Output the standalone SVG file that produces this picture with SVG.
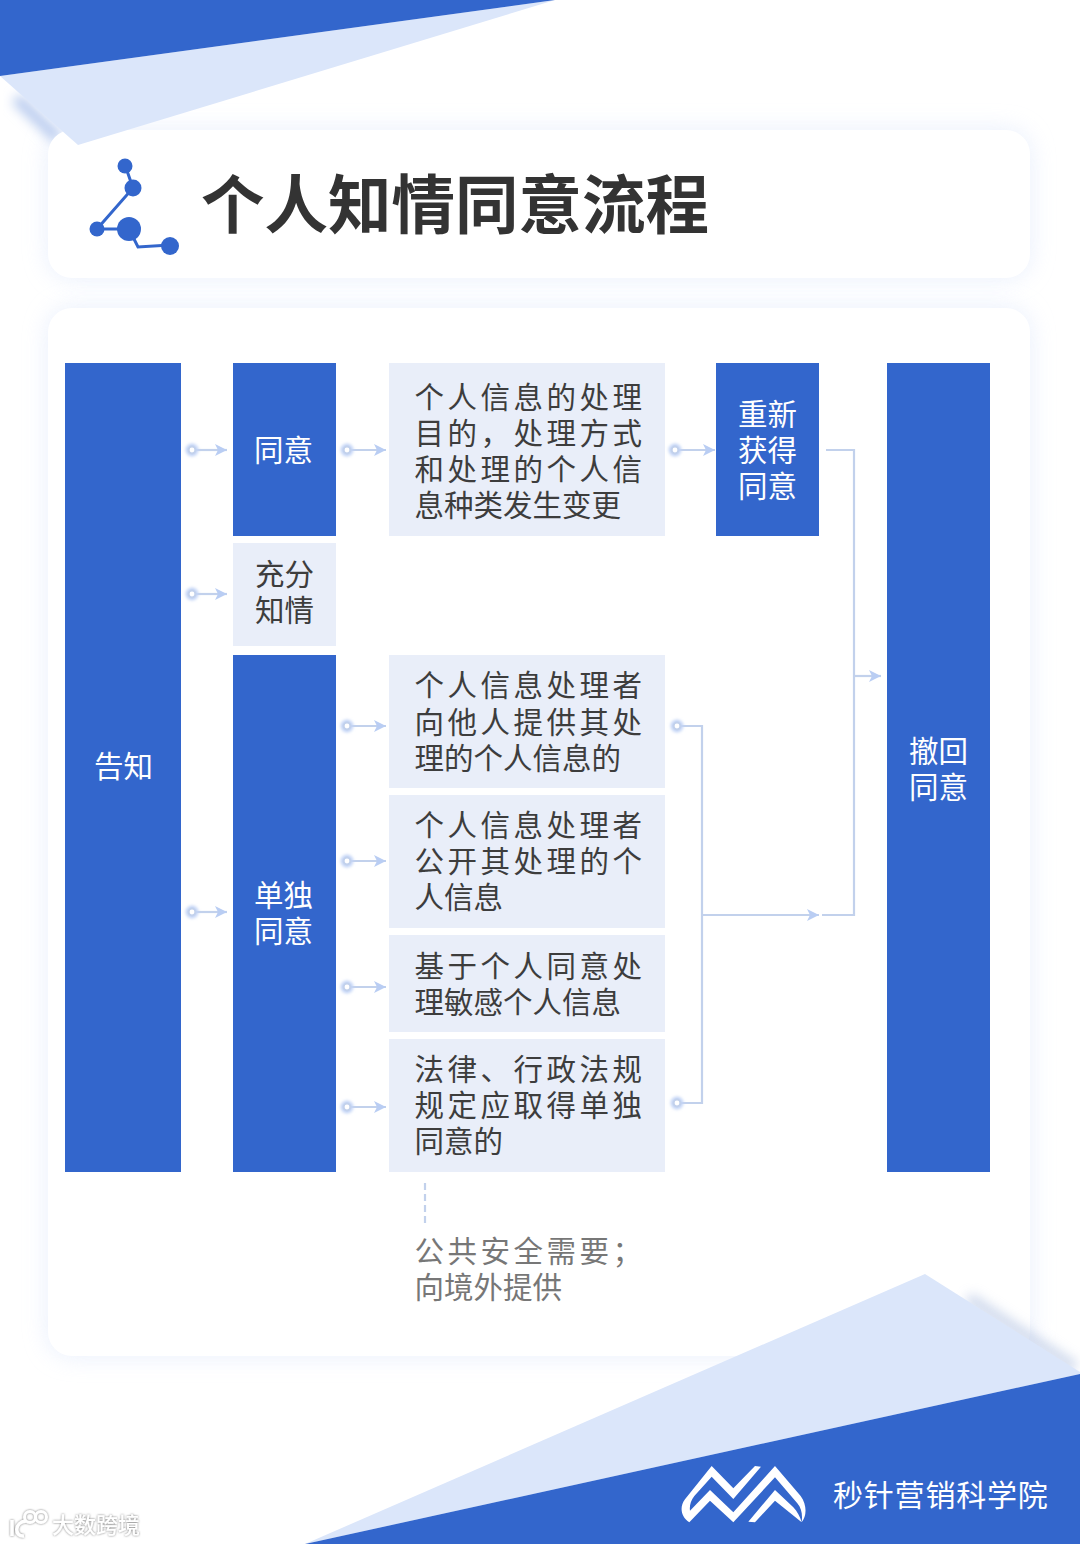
<svg xmlns="http://www.w3.org/2000/svg" width="1080" height="1544" viewBox="0 0 1080 1544">
<style>
text{font-family:"Noto Sans CJK SC","Noto Sans",sans-serif}
.t{font-size:29.5px;fill:#3d3d3d}
.w{font-size:29.5px;fill:#fff}
.j{letter-spacing:3.5px}
.g{fill:#777}
.b{fill:#3366cc}
.l{fill:#e9eef9}
.c{fill:none;stroke:#c2d1ec;stroke-width:2.2}
.o{fill:#fff;stroke:#c2d1ec;stroke-width:2}
.h{fill:#c3d4f6;filter:url(#glow)}
</style>
<defs>
<filter id="sh" x="-10%" y="-30%" width="120%" height="160%"><feGaussianBlur stdDeviation="12"/></filter>
<filter id="sh2" x="-10%" y="-10%" width="120%" height="120%"><feGaussianBlur stdDeviation="12"/></filter>
<filter id="soft" x="-30%" y="-30%" width="160%" height="160%"><feGaussianBlur stdDeviation="6"/></filter>
<filter id="glow" x="-100%" y="-100%" width="300%" height="300%"><feGaussianBlur stdDeviation="1.6"/></filter>
<filter id="wm" x="-20%" y="-30%" width="140%" height="160%"><feDropShadow dx="0" dy="0" stdDeviation="1.2" flood-color="#777"/></filter>
<marker id="a" markerUnits="userSpaceOnUse" markerWidth="14" markerHeight="12" refX="12" refY="6" orient="auto"><path d="M0 0L12 6L0 12L3 6Z" fill="#b9cdf3"/></marker>
<g id="st"><circle r="6.5" class="h"/><circle r="3.4" class="o"/></g>
</defs>

<g id="bg">
<rect width="1080" height="1544" fill="#fff"/>
<rect x="48" y="130" width="982" height="148" rx="24" fill="#dfe8fb" opacity=".7" filter="url(#sh)"/>
<rect x="48" y="308" width="982" height="1048" rx="24" fill="#dfe8fb" opacity=".7" filter="url(#sh2)"/>
<path d="M16 98L58 138" stroke="#b6c9ee" stroke-width="12" fill="none" filter="url(#soft)"/>
<rect x="48" y="130" width="982" height="148" rx="24" fill="#fff"/>
<rect x="48" y="308" width="982" height="1048" rx="24" fill="#fff"/>
<path d="M0 76L78 145L555 0Z" fill="#dbe6fa"/>
<path d="M0 0H555L0 76Z" class="b"/>
<path d="M968 1298L1075 1368" stroke="#aebfe0" stroke-width="12" fill="none" filter="url(#soft)" opacity=".6"/>
<path d="M925 1274L1080 1372V1374L305 1544Z" fill="#dbe6fa"/>
<path d="M1080 1374V1544H305Z" class="b"/>
</g>

<g id="title">
<path d="M125 165L133 188L97 229H129L138 247L170 245" fill="none" stroke="#3366cc" stroke-width="3"/>
<circle cx="125" cy="166" r="7.5" class="b"/>
<circle cx="133" cy="188" r="8.5" class="b"/>
<circle cx="97" cy="229" r="7.5" class="b"/>
<circle cx="129" cy="229" r="12" class="b"/>
<circle cx="170" cy="246" r="9" class="b"/>
<text x="201" y="228" font-size="63.5" font-weight="700" fill="#333">个人知情同意流程</text>
</g>

<g id="connectors">
<path class="c" d="M196 450H227" marker-end="url(#a)"/>
<path class="c" d="M196 594H227" marker-end="url(#a)"/>
<path class="c" d="M196 912H227" marker-end="url(#a)"/>
<path class="c" d="M351 450H386" marker-end="url(#a)"/>
<path class="c" d="M351 726H386" marker-end="url(#a)"/>
<path class="c" d="M351 861H386" marker-end="url(#a)"/>
<path class="c" d="M351 987H386" marker-end="url(#a)"/>
<path class="c" d="M351 1107H386" marker-end="url(#a)"/>
<path class="c" d="M679 450H715" marker-end="url(#a)"/>
<path class="c" d="M681 726H702V1103H681"/>
<path class="c" d="M702 915H819" marker-end="url(#a)"/>
<path class="c" d="M826 450H854V915H822"/>
<path class="c" d="M854 676H881" marker-end="url(#a)"/>
<path class="c" d="M425 1183V1227" stroke-dasharray="7 4"/>
<use href="#st" x="192" y="450"/>
<use href="#st" x="192" y="594"/>
<use href="#st" x="192" y="912"/>
<use href="#st" x="347" y="450"/>
<use href="#st" x="347" y="726"/>
<use href="#st" x="347" y="861"/>
<use href="#st" x="347" y="987"/>
<use href="#st" x="347" y="1107"/>
<use href="#st" x="675" y="450"/>
<use href="#st" x="677" y="726"/>
<use href="#st" x="677" y="1103"/>
</g>

<g id="n-gaozhi"><rect x="65" y="363" width="116" height="809" class="b"/><text class="w" x="94" y="777">告知</text></g>
<g id="n-tongyi"><rect x="233" y="363" width="103" height="173" class="b"/><text class="w" x="254" y="461">同意</text></g>
<g id="n-change"><rect x="389" y="363" width="276" height="173" class="l"/>
<text class="t j" x="414.5" y="408">个人信息的处理</text>
<text class="t j" x="414.5" y="444">目的，处理方式</text>
<text class="t j" x="414.5" y="480">和处理的个人信</text>
<text class="t" x="414.5" y="516">息种类发生变更</text></g>
<g id="n-regain"><rect x="716" y="363" width="103" height="173" class="b"/>
<text class="w" x="738" y="425">重新</text><text class="w" x="738" y="461">获得</text><text class="w" x="738" y="497">同意</text></g>
<g id="n-full"><rect x="233" y="543" width="103" height="103" class="l"/>
<text class="t" x="255" y="585">充分</text><text class="t" x="255" y="621">知情</text></g>
<g id="n-single"><rect x="233" y="655" width="103" height="517" class="b"/>
<text class="w" x="254" y="906">单独</text><text class="w" x="254" y="942">同意</text></g>
<g id="n-a"><rect x="389" y="655" width="276" height="133" class="l"/>
<text class="t j" x="414.5" y="696">个人信息处理者</text>
<text class="t j" x="414.5" y="733">向他人提供其处</text>
<text class="t" x="414.5" y="769">理的个人信息的</text></g>
<g id="n-b"><rect x="389" y="795" width="276" height="133" class="l"/>
<text class="t j" x="414.5" y="836">个人信息处理者</text>
<text class="t j" x="414.5" y="872">公开其处理的个</text>
<text class="t" x="414.5" y="908">人信息</text></g>
<g id="n-c"><rect x="389" y="935" width="276" height="97" class="l"/>
<text class="t j" x="414.5" y="977">基于个人同意处</text>
<text class="t" x="414.5" y="1013">理敏感个人信息</text></g>
<g id="n-d"><rect x="389" y="1039" width="276" height="133" class="l"/>
<text class="t j" x="414.5" y="1080">法律、行政法规</text>
<text class="t j" x="414.5" y="1116">规定应取得单独</text>
<text class="t" x="414.5" y="1152">同意的</text></g>
<g id="n-revoke"><rect x="887" y="363" width="103" height="809" class="b"/>
<text class="w" x="909" y="762">撤回</text><text class="w" x="909" y="798">同意</text></g>
<g id="n-note">
<text class="t j g" x="414.5" y="1262">公共安全需要；</text>
<text class="t g" x="414.5" y="1298">向境外提供</text></g>

<g id="brand">
<g transform="translate(660 1260) scale(.3333)" fill="#fff">
<path d="M88 787C62 770 58 740 75 718L155 618L220 685L285 618L303 620L220 717L155 650L103 708C92 722 88 738 90 752L150 690L220 757L345 618L422 708C442 735 440 770 425 787C428 765 425 745 412 730L345 652L220 787L150 722Z"/>
<path d="M425 787C420 770 412 755 400 742L345 690L265 785L285 787L345 722Z"/>
</g>
<text x="833" y="1506" font-size="30" letter-spacing=".8" fill="#fff">秒针营销科学院</text>
</g>

<g id="watermark" filter="url(#wm)">
<path d="M12 1520V1536M26 1521C14 1522 14 1537 24 1536" fill="none" stroke="#fff" stroke-width="3.5"/>
<circle cx="30" cy="1517" r="5.5" fill="none" stroke="#fff" stroke-width="3"/>
<circle cx="41" cy="1517" r="5.5" fill="none" stroke="#fff" stroke-width="3"/>
<text x="52" y="1533" font-size="22" font-weight="500" fill="#fff">大数跨境</text>
</g>
</svg>
